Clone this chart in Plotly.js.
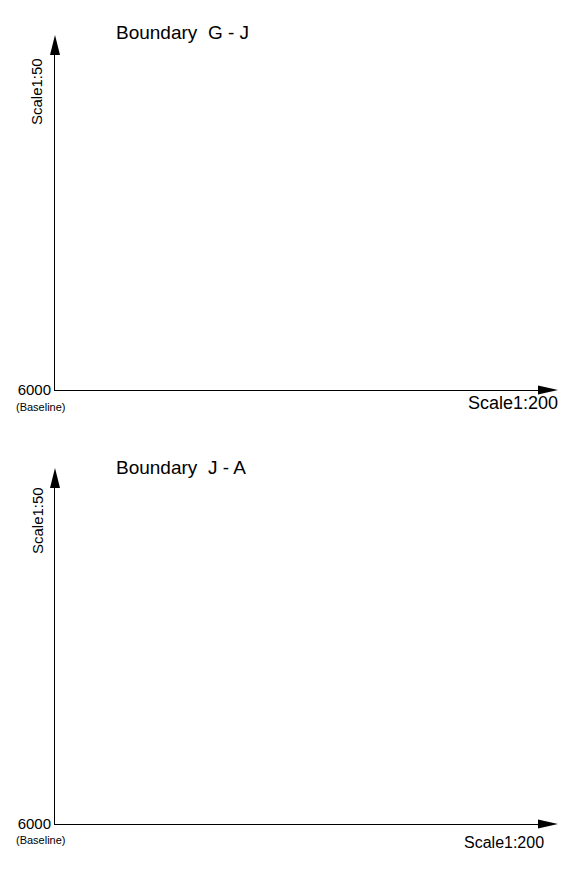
<!DOCTYPE html>
<html>
<head>
<meta charset="utf-8">
<script src="https://cdn.plot.ly/plotly-3.0.1.min.js"></script>
<style>html,body{margin:0;padding:0;background:#fff;}#chart{width:578px;height:873px;}</style>
</head>
<body>
<div id="chart"></div>
<script>
// ---- data ----
const panelTitles = ['Boundary  G - J', 'Boundary  J - A'];
const baselineValues = [6000, 6000];
const baselineLabels = ['(Baseline)', '(Baseline)'];
const yScaleLabels = ['Scale1:50', 'Scale1:50'];
const xScaleLabels = ['Scale1:200', 'Scale1:200'];

// ---- layout helpers (pixel -> paper) ----
const W = 578, H = 873;
const px = x => x / W;
const py = y => 1 - y / H;
const FONT = 'Liberation Sans, Arial, sans-serif';

// panel geometry in pixels
const panels = [
  {axisX: 55, baseY: 390, topY: 35, endX: 558, titleY: 33, yLabY: 92, blY: 407, sX: 560, sY: 403, sSize: 18},
  {axisX: 55, baseY: 824, topY: 468, endX: 558, titleY: 467, yLabY: 521, blY: 840, sX: 546, sY: 842, sSize: 16}
];

const traces = [];
const layout = {
  width: W, height: H,
  margin: {l: 0, r: 0, t: 0, b: 0},
  paper_bgcolor: '#fff', plot_bgcolor: '#fff',
  showlegend: false,
  font: {family: FONT, color: '#000'},
  shapes: [], annotations: []
};

panels.forEach((p, i) => {
  const sfx = i === 0 ? '' : String(i + 1);
  traces.push({type: 'scatter', mode: 'lines', x: [], y: [], xaxis: 'x' + sfx, yaxis: 'y' + sfx, hoverinfo: 'skip'});
  layout['xaxis' + sfx] = {
    domain: [px(p.axisX), px(p.endX - 20)], anchor: 'y' + sfx,
    range: [0, 1], showline: true, linecolor: '#000', linewidth: 1,
    showgrid: false, zeroline: false, showticklabels: false, ticks: '', fixedrange: true
  };
  layout['yaxis' + sfx] = {
    domain: [py(p.baseY), py(p.topY + 20)], anchor: 'x' + sfx,
    range: [baselineValues[i], baselineValues[i] + 100],
    showline: true, linecolor: '#000', linewidth: 1,
    showgrid: false, zeroline: false, ticks: '',
    tickvals: [baselineValues[i]], ticktext: [String(baselineValues[i])],
    tickfont: {size: 15, family: FONT, color: '#000'}, ticklabelstandoff: 0, fixedrange: true
  };
  // arrowheads
  layout.shapes.push({
    type: 'path', xref: 'paper', yref: 'paper', line: {width: 0}, fillcolor: '#000',
    path: `M ${px(p.axisX)},${py(p.topY)} L ${px(p.axisX - 5)},${py(p.topY + 20)} L ${px(p.axisX + 5)},${py(p.topY + 20)} Z`
  });
  layout.shapes.push({
    type: 'path', xref: 'paper', yref: 'paper', line: {width: 0}, fillcolor: '#000',
    path: `M ${px(p.endX)},${py(p.baseY)} L ${px(p.endX - 20)},${py(p.baseY - 4.5)} L ${px(p.endX - 20)},${py(p.baseY + 4.5)} Z`
  });
  // texts
  layout.annotations.push({
    xref: 'paper', yref: 'paper', x: px(114), y: py(p.titleY), xanchor: 'left', yanchor: 'middle',
    text: panelTitles[i], showarrow: false, font: {size: 19, family: FONT, color: '#000'}
  });
  layout.annotations.push({
    xref: 'paper', yref: 'paper', x: px(37), y: py(p.yLabY), xanchor: 'center', yanchor: 'middle',
    text: yScaleLabels[i], textangle: -90, showarrow: false, font: {size: 15, family: FONT, color: '#000'}
  });
  layout.annotations.push({
    xref: 'paper', yref: 'paper', x: px(14), y: py(p.blY), xanchor: 'left', yanchor: 'middle',
    text: baselineLabels[i], showarrow: false, font: {size: 11, family: FONT, color: '#000'}
  });
  layout.annotations.push({
    xref: 'paper', yref: 'paper', x: px(p.sX), y: py(p.sY), xanchor: 'right', yanchor: 'middle',
    text: xScaleLabels[i], showarrow: false, font: {size: p.sSize, family: FONT, color: '#000'}
  });
});

Plotly.newPlot('chart', traces, layout, {staticPlot: true, displayModeBar: false});
</script>
</body>
</html>
